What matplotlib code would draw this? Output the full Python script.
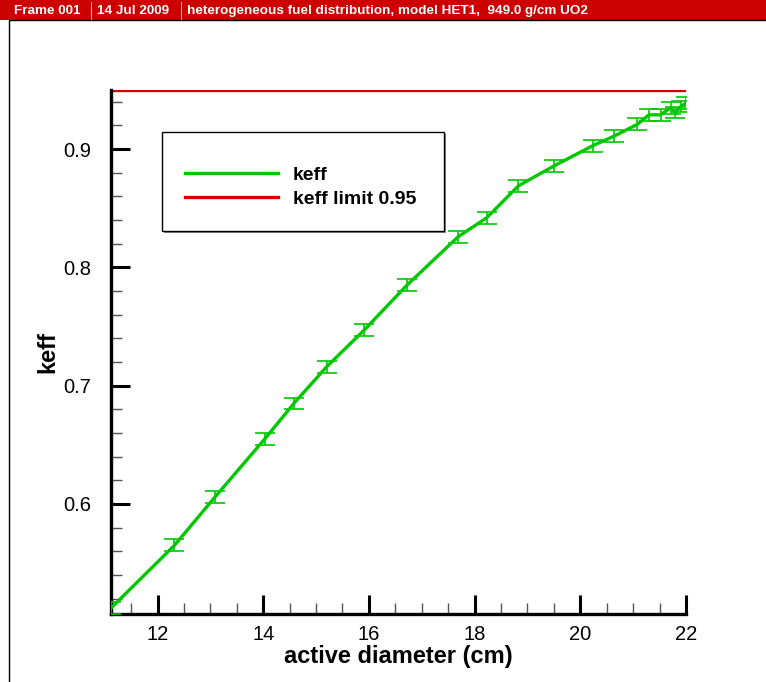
import numpy as np
import matplotlib
matplotlib.use("Agg")
import matplotlib.pyplot as plt
from matplotlib.ticker import MultipleLocator
from matplotlib.patches import Rectangle
from matplotlib.lines import Line2D

plt.rcParams['font.family'] = ['Liberation Sans', 'DejaVu Sans']

# keff vs active diameter
diameter = [11.12, 12.32, 13.09, 14.03, 14.58, 15.20, 15.91, 16.72, 17.69, 18.23,
            18.83, 19.51, 20.24, 20.64, 21.08, 21.30, 21.52, 21.71, 21.80, 21.90, 22.0]
keff = [0.512, 0.565, 0.606, 0.655, 0.685, 0.716, 0.747, 0.785, 0.826, 0.842,
        0.869, 0.886, 0.903, 0.911, 0.921, 0.929, 0.929, 0.935, 0.931, 0.936, 0.939]
keff_err = [0.005] * len(keff)
keff_limit = 0.95

x_ticks = [12, 14, 16, 18, 20, 22]
y_ticks = [0.6, 0.7, 0.8, 0.9]

banner = ["Frame 001", "14 Jul 2009",
          "heterogeneous fuel distribution, model HET1,  949.0 g/cm UO2"]

green = '#00c800'
red = '#d40000'

fig = plt.figure(figsize=(7.66, 6.82), dpi=100)

# red header bar + outer frame
fig.patches.append(Rectangle((0, 1 - 20 / 682), 1, 20 / 682, transform=fig.transFigure,
                             facecolor='#cc0000', edgecolor='none'))
fig.patches.append(Rectangle((9 / 766, -0.01), 1.0, 1 - 20 / 682 + 0.01, transform=fig.transFigure,
                             facecolor='none', edgecolor='black', linewidth=1.0))
bx = [14 / 766, 97 / 766, 187 / 766]
for xx, txt in zip(bx, banner):
    fig.text(xx, 1 - 11 / 682, txt, color='white', fontsize=9.7, fontweight='bold',
             va='center', ha='left')
for xx in [91 / 766, 181 / 766]:
    fig.add_artist(Line2D([xx, xx], [1 - 19 / 682, 1 - 2 / 682], transform=fig.transFigure,
                          color='#f0b0b0', linewidth=0.8))

ax = fig.add_axes([111 / 766, 1 - 614 / 682, (686 - 111) / 766, (614 - 90) / 682])

ax.errorbar(diameter, keff, yerr=keff_err, color=green, linewidth=2.4,
            elinewidth=1.2, capsize=7, capthick=1.2, zorder=3)
ax.axhline(keff_limit, color=red, linewidth=2.4, zorder=2)

ax.set_xlim(11.12, 22)
ax.set_ylim(0.507, 0.95)
ax.set_xticks(x_ticks)
ax.set_yticks(y_ticks)
ax.xaxis.set_minor_locator(MultipleLocator(0.5))
ax.yaxis.set_minor_locator(MultipleLocator(0.02))
ax.tick_params(which='major', direction='in', length=14, width=2.2, labelsize=14.5)
ax.tick_params(axis='y', which='major', pad=14)
ax.tick_params(axis='x', which='major', pad=8)
ax.tick_params(which='minor', direction='in', length=8, width=1.0, color='#555555')
ax.spines['top'].set_visible(False)
ax.spines['right'].set_visible(False)
for s in ['left', 'bottom']:
    ax.spines[s].set_linewidth(2.4)

ax.set_xlabel('active diameter (cm)', fontsize=17, fontweight='bold', labelpad=1)
ax.set_ylabel('keff', fontsize=17, fontweight='bold')
ax.yaxis.set_label_coords(-0.09, 0.5)

# legend box with drop shadow
x0, y0 = (162 - 111) / 575, (614 - 231) / 524
w, h = (444 - 162) / 575, (231 - 132) / 524
ax.add_patch(Rectangle((x0 + 0.003, y0 - 0.004), w, h, transform=ax.transAxes,
                       facecolor='#888888', edgecolor='none', zorder=4))
ax.add_patch(Rectangle((x0, y0), w, h, transform=ax.transAxes,
                       facecolor='white', edgecolor='black', linewidth=1.0, zorder=5))
handles = [Line2D([], [], color=green, linewidth=2.4),
           Line2D([], [], color=red, linewidth=2.4)]
leg = ax.legend(handles, ['keff', 'keff limit 0.95'], loc='upper left',
                bbox_to_anchor=((185 - 111) / 575, (614 - 166) / 524),
                frameon=False, prop={'weight': 'bold', 'size': 14},
                handlelength=4.8, handletextpad=0.75, labelspacing=0.35,
                borderpad=0, borderaxespad=0)
leg.set_zorder(6)

fig.savefig('out.png', dpi=100)
